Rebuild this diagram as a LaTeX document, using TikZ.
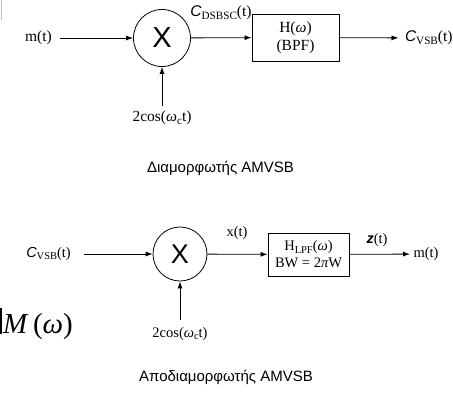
\documentclass[tikz,border=0pt]{standalone}
\usepackage{fontspec}
\setmainfont{Liberation Serif}
\newfontfamily\capfont{Liberation Sans}
\usetikzlibrary{arrows.meta}
\newcommand{\lowtxt}[1]{\raisebox{-0.35ex}{\scalebox{0.72}{#1}}}
\newcommand{\cvsb}{{\capfont\itshape C}\lowtxt{VSB}(t)}
\newcommand{\omc}{{\itshape ω}\lowtxt{c}}
\begin{document}
\begin{tikzpicture}[x=1pt, y=-1pt,
    font=\fontsize{15.5}{18}\selectfont,
    small/.style={font=\fontsize{14.5}{17}\selectfont},
    sig/.style={line width=0.8pt, -{Latex[length=7pt,width=5pt]}},
    mixer/.style={draw, circle, line width=0.8pt, inner sep=0pt, font=\capfont\fontsize{29}{29}\selectfont},
    filt/.style={draw, line width=0.9pt, align=center, inner sep=0pt}]
    \useasboundingbox (0,0) rectangle (453,392);
    \draw[gray!50, line width=1pt] (1.5,0) -- (1.5,20);
    % modulator
    \node (m1) at (38.5,38) {m(t)};
    \node[mixer, minimum size=57pt] (x1) at (162,38) {X};
    \node[filt, minimum width=87pt, minimum height=47pt] (h1) at (295.5,37.5) {H({\itshape ω})\\(BPF)};
    \node[anchor=west] (c1) at (401.5,38) {\cvsb};
    \node (cd) at (221,13) {{\capfont\itshape C}\lowtxt{DSBSC}(t)};
    \node (osc1) at (162,118) {2cos(\omc t)};
    \draw[sig, shorten <=5pt] (m1) -- (x1);
    \draw[sig] (x1) -- (h1);
    \draw[sig, shorten >=3pt] (h1) -- (c1);
    \draw[sig, shorten <=1pt] (osc1) -- (x1);
    \node[font=\capfont\fontsize{15}{17}\selectfont] (cap1) at (220.5,168) {Διαμορφωτής AMVSB};
    % demodulator
    \node[small] (c2) at (48.5,254) {\cvsb};
    \node[mixer, minimum size=54pt, font=\capfont\fontsize{27}{27}\selectfont] (x2) at (180,254) {X};
    \node[filt, small, minimum width=81pt, minimum height=43pt] (h2) at (308.5,254.5) {H\lowtxt{LPF}({\itshape ω})\\BW = 2{\itshape π}W};
    \node[anchor=west, small] (m2) at (410,254) {m(t)};
    \node[small] (xt) at (237,233) {x(t)};
    \node[small] (zt) at (377,240) {{\capfont\bfseries\itshape z}(t)};
    \node[small] (osc2) at (180,334) {2cos(\omc t)};
    \draw[sig, shorten <=10pt] (c2) -- (x2);
    \draw[sig] (x2) -- (h2);
    \draw[sig] (h2) -- (m2);
    \draw[sig, shorten <=4pt] (osc2) -- (x2);
    \node[font=\fontsize{29}{32}\selectfont, inner sep=0pt, anchor=base west] (mw) at (0,333) {\rule[-0.03em]{1.4pt}{0.9em}\hspace{0.05em}{\itshape M}\hspace{0.2em}({\itshape ω})};
    \node[font=\capfont\fontsize{15}{17}\selectfont] (cap2) at (226,377) {Αποδιαμορφωτής AMVSB};
\end{tikzpicture}
\end{document}
